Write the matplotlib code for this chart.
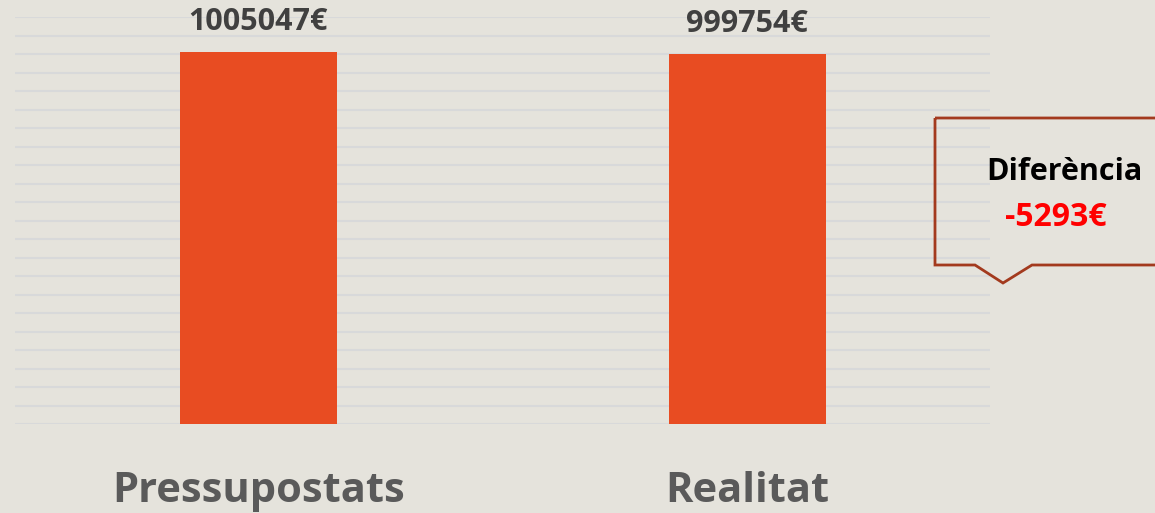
import matplotlib
matplotlib.use("Agg")
import matplotlib.pyplot as plt
from matplotlib.patches import Polygon
import numpy as np

categories = ["Pressupostats", "Realitat"]
values = [1005047, 999754]
value_labels = ["1005047€", "999754€"]
diff_title = "Diferència"
diff_value = "-5293€"

BG = "#e5e3dc"
BAR = "#e84c22"
GRID = "#d8d9da"

W, H = 1155, 513
fig = plt.figure(figsize=(W / 100, H / 100), dpi=100, facecolor=BG)
ax = fig.add_axes([15 / W, (H - 424) / H, 975 / W, (424 - 17) / H])
ax.set_facecolor(BG)

x = np.arange(len(categories))
ax.bar(x, values, width=0.321, color=BAR, zorder=3)
ax.set_xlim(-0.498, 1.497)
ax.set_ylim(0, 1100000)
ax.set_yticks(np.arange(0, 1100001, 50000))
ax.yaxis.grid(True, color=GRID, linewidth=1.5, zorder=0)
ax.tick_params(left=False, bottom=False, labelleft=False, labelbottom=False)
for s in ax.spines.values():
    s.set_visible(False)

for xi, v, lab in zip(x, values, value_labels):
    ax.annotate(lab, (xi, v), xytext=(0, 16), textcoords="offset points",
                ha="center", va="baseline", fontsize=22, fontweight="bold",
                color="#404040", family="Open Sans")

for xi, c in zip(x, categories):
    ax.annotate(c, (xi, 0), xytext=(0, -56), textcoords="offset points",
                ha="center", va="baseline", fontsize=30, fontweight="bold",
                color="#5a5a5a", family="Open Sans")

# callout box in figure pixel coordinates
pts = [(935, 118), (1160, 118), (1160, 265), (1032, 265), (1003, 283),
       (975, 265), (935, 265)]
pts = [(px / W, 1 - py / H) for px, py in pts]
poly = Polygon(pts, closed=True, transform=fig.transFigure, fill=False,
               edgecolor="#a33a1e", linewidth=2, clip_on=False)
fig.patches.append(poly)
fig.text(1064 / W, 1 - 172 / H, diff_title, ha="center", va="center",
         fontsize=22, fontweight="bold", color="black", family="Open Sans")
fig.text(1056 / W, 1 - 218 / H, diff_value, ha="center", va="center",
         fontsize=23, fontweight="bold", color="#ff0000", family="Open Sans")

fig.savefig("out.png", dpi=100, facecolor=BG)
